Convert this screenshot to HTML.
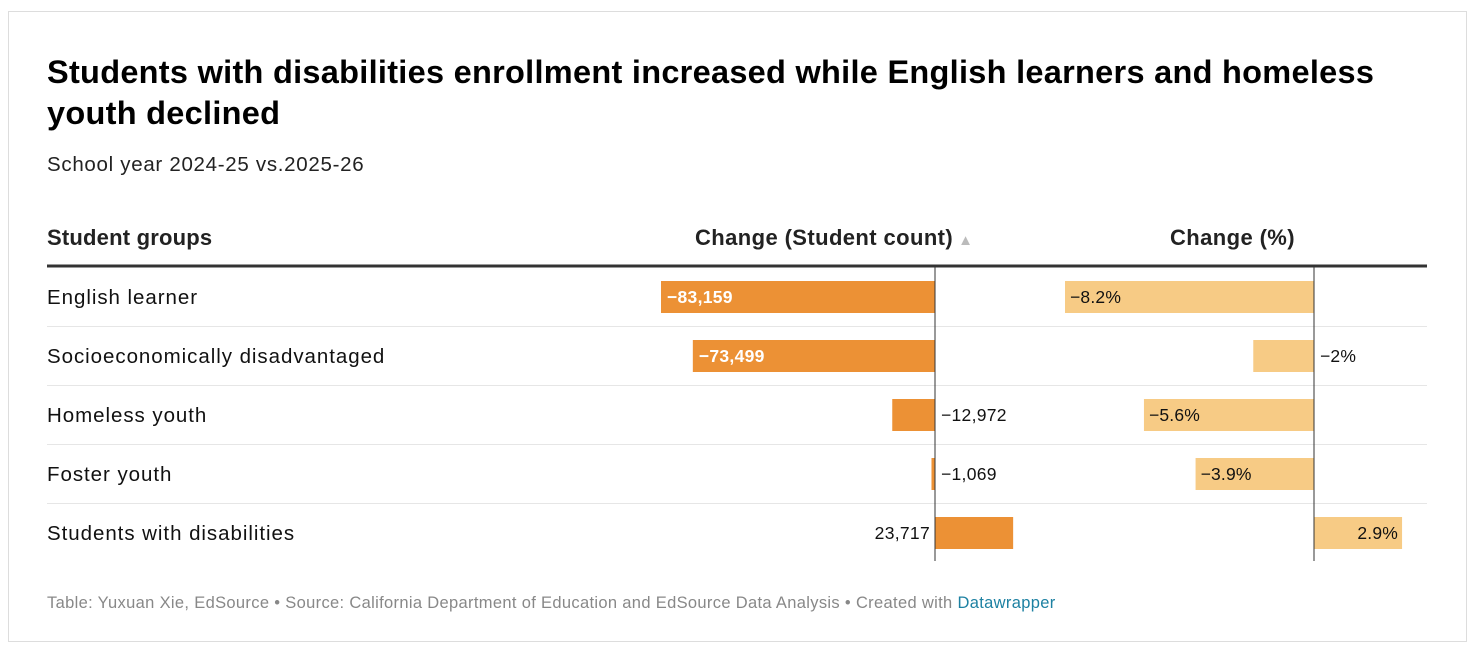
<!DOCTYPE html>
<html><head><meta charset="utf-8"><style>
body{margin:0;width:1480px;height:652px;background:#fff;font-family:"Liberation Sans",Arial,sans-serif;overflow:hidden}
#frame{position:absolute;left:8px;top:11px;width:1459px;height:631px;border:1px solid #ddd;box-sizing:border-box}
.t{position:absolute;white-space:nowrap;color:#000}
</style></head><body>
<div id="frame"></div>
<div class="t" style="left:47px;top:52px;font-size:32.5px;font-weight:bold;line-height:41px;letter-spacing:0.28px">Students with disabilities enrollment increased while English learners and homeless<br>youth declined</div>
<div class="t" style="left:47px;top:153px;font-size:20.5px;letter-spacing:0.7px;color:#222">School year 2024-25 vs.2025-26</div>
<div class="t" style="left:47px;top:225px;font-size:22px;font-weight:bold;color:#222;letter-spacing:0.2px">Student groups</div>
<div class="t" style="left:695px;top:225px;font-size:22px;font-weight:bold;color:#222;letter-spacing:0.4px">Change (Student count)<span style="color:#bbb;font-size:15px;margin-left:5px">▲</span></div>
<div class="t" style="left:1170px;top:225px;font-size:22px;font-weight:bold;color:#222;letter-spacing:0.4px">Change (%)</div>
<svg id="chart" width="1480" height="652" style="position:absolute;left:0;top:0"></svg>
<div class="t" style="left:47px;top:594px;font-size:16.5px;letter-spacing:0.33px;color:#888">Table: Yuxuan Xie, EdSource • Source: California Department of Education and EdSource Data Analysis • Created with <span style="color:#1d81a2">Datawrapper</span></div>
<script>
const groups=["English learner","Socioeconomically disadvantaged","Homeless youth","Foster youth","Students with disabilities"];
const counts=[-83159,-73499,-12972,-1069,23717];
const pcts=[-8.2,-2,-5.6,-3.9,2.9];
const pctLabels=["−8.2%","−2%","−5.6%","−3.9%","2.9%"];
const svg=document.getElementById('chart');const NS='http://www.w3.org/2000/svg';
function mk(t,a){const e=document.createElementNS(NS,t);for(const k in a)e.setAttribute(k,a[k]);svg.appendChild(e);return e;}
const c0=935,cS=274/83159,p0=1314,pS=249/8.2;
const xc=v=>c0+v*cS, xp=v=>p0+v*pS;
const top0=267,rowH=59;
function fmt(v){const s=Math.abs(v).toLocaleString('en-US');return (v<0?'−':'')+s;}
let l=mk('line',{x1:47,x2:1427,y1:266,y2:266,stroke:'#333','stroke-width':3});


groups.forEach((g,i)=>{
 const y=top0+i*rowH, cy=y+30;
 if(i<groups.length-1){const s=mk('line',{x1:47,x2:1427,y1:y+59.5,y2:y+59.5,stroke:'#e6e6e6','stroke-width':1});
 
 }
 const tl=mk('text',{x:47,y:cy+7,'font-size':20.5,'letter-spacing':0.95,fill:'#111'});tl.textContent=g;
 
 
 const v=counts[i];const x1=Math.min(xc(v),c0),w=Math.abs(xc(v)-c0);
 const b=mk('rect',{x:x1,y:cy-16,width:Math.max(w,2),height:32,fill:'#ec9135'});
 
 
 let tx,anchor,col;
 if(w>120){tx=x1+6;anchor='start';col='#fff';}
 else if(v<0){tx=c0+6;anchor='start';col='#111';}
 else{tx=c0-5;anchor='end';col='#111';}
 const t=mk('text',{x:tx,y:cy+6,'font-size':17.5,'letter-spacing':0.3,fill:col,'text-anchor':anchor,'font-weight':col=='#fff'?'bold':'normal'});t.textContent=fmt(v);
 
 
 const p=pcts[i];const px=Math.min(xp(p),p0),pw=Math.abs(xp(p)-p0);
 const pb=mk('rect',{x:px,y:cy-16,width:pw,height:32,fill:'#f7cb85'});
 
 
 let ptx,pa;
 if(pw<70){ptx=p0+6;pa='start';}else if(p<0){ptx=px+5;pa='start';}else{ptx=xp(p)-4;pa='end';}
 const pt=mk('text',{x:ptx,y:cy+6,'font-size':17.5,'letter-spacing':0.2,fill:'#111','text-anchor':pa});pt.textContent=pctLabels[i];
 
 
});
let z1=mk('line',{x1:c0,x2:c0,y1:266,y2:561,stroke:'#333','stroke-width':1});


let z2=mk('line',{x1:p0,x2:p0,y1:266,y2:561,stroke:'#333','stroke-width':1});


</script>
</body></html>
